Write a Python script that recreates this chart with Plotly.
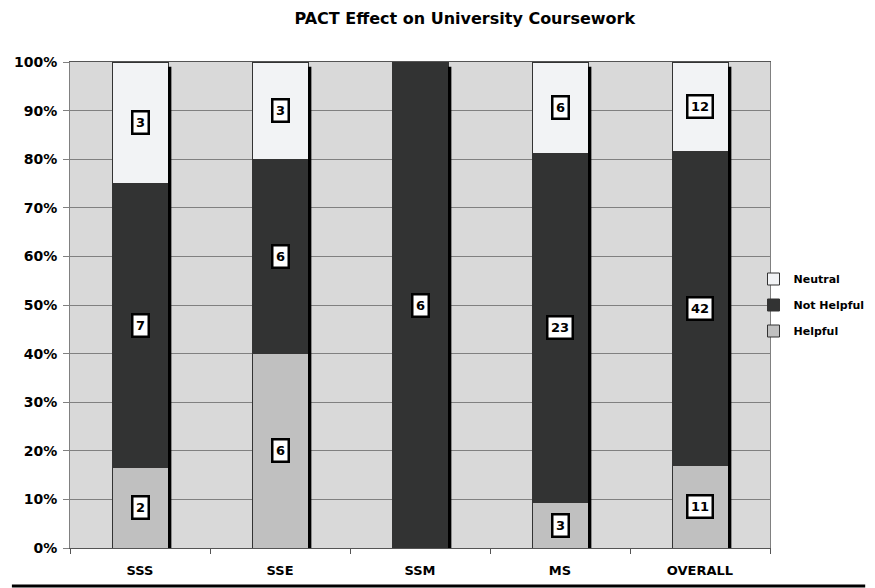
import plotly.graph_objects as go

categories = ["SSS", "SSE", "SSM", "MS", "OVERALL"]
helpful = [2, 6, 0, 3, 11]
not_helpful = [7, 6, 6, 23, 42]
neutral = [3, 3, 0, 6, 12]

series = [
    ("Helpful", helpful, "#c0c0c0", 3),
    ("Not Helpful", not_helpful, "#323333", 2),
    ("Neutral", neutral, "#f2f3f5", 1),
]

totals = [a + b + c for a, b, c in zip(helpful, not_helpful, neutral)]
FONT = "DejaVu Sans"
BAR_W = 0.4

fig = go.Figure()
for name, vals, color, rank in series:
    fig.add_trace(go.Bar(
        x=categories, y=[v / t for v, t in zip(vals, totals)], name=name,
        legendgroup=name, legendrank=rank,
        marker=dict(color=color, line=dict(color="#333333", width=1)),
        width=BAR_W, hoverinfo="skip",
    ))

# data labels at the centre of each segment
annotations = []
for i, cat in enumerate(categories):
    base = 0.0
    for name, vals, color, rank in series:
        frac = vals[i] / totals[i]
        if vals[i] > 0:
            annotations.append(dict(
                x=cat, y=base + frac / 2, xref="x", yref="y", text=str(vals[i]),
                showarrow=False, font=dict(family=FONT, size=13, color="black", weight="bold"),
                bgcolor="white", bordercolor="black", borderwidth=2.5, borderpad=2.5,
            ))
        base += frac

# shadows on right side of each bar
shapes = []
for i, cat in enumerate(categories):
    shapes.append(dict(
        type="rect", xref="x", yref="y",
        x0=i + BAR_W / 2, x1=i + BAR_W / 2 + 0.024, y0=0, y1=0.99,
        fillcolor="black", line=dict(width=0), layer="above",
    ))
shapes.append(dict(
    type="line", xref="paper", yref="paper", x0=-0.083, x1=1.136, y0=-0.078, y1=-0.078,
    line=dict(color="black", width=3),
))

fig.update_layout(
    width=875, height=588,
    margin=dict(l=62, r=113, t=54, b=48, autoexpand=False),
    barmode="stack", bargap=0.6,
    plot_bgcolor="#d9d9d9", paper_bgcolor="white",
    font=dict(family=FONT, color="black"),
    title=dict(text="PACT Effect on University Coursework", x=0.522, xref="container",
               xanchor="center", y=0.983, yref="container", yanchor="middle",
               font=dict(family=FONT, size=16, color="black", weight="bold")),
    showlegend=True,
    legend=dict(x=0.852, xref="container", y=0.5, yref="paper", yanchor="middle", xanchor="left",
                traceorder="grouped",
                font=dict(family=FONT, size=11, weight="bold"), itemwidth=30, tracegroupgap=7,
                bgcolor="rgba(0,0,0,0)"),
    annotations=annotations, shapes=shapes,
    xaxis=dict(
        type="category", range=[-0.5, 4.5], showgrid=False, automargin=False,
        showline=True, linecolor="#555555", linewidth=1, mirror=True,
        ticks="outside", tickson="boundaries", ticklen=5, tickcolor="#555555",
        tickfont=dict(family=FONT, size=13, weight="bold"), ticklabelstandoff=10,
    ),
    yaxis=dict(
        range=[0, 1], dtick=0.1, tickformat=".0%", automargin=False,
        showgrid=True, gridcolor="#808080", gridwidth=1,
        showline=True, linecolor="#808080", linewidth=1, mirror=True,
        ticks="outside", ticklen=6, tickcolor="#808080",
        tickfont=dict(family=FONT, size=14, weight="bold"), zeroline=False,
        ticklabelstandoff=3,
    ),
)

fig.write_html("out.html")
